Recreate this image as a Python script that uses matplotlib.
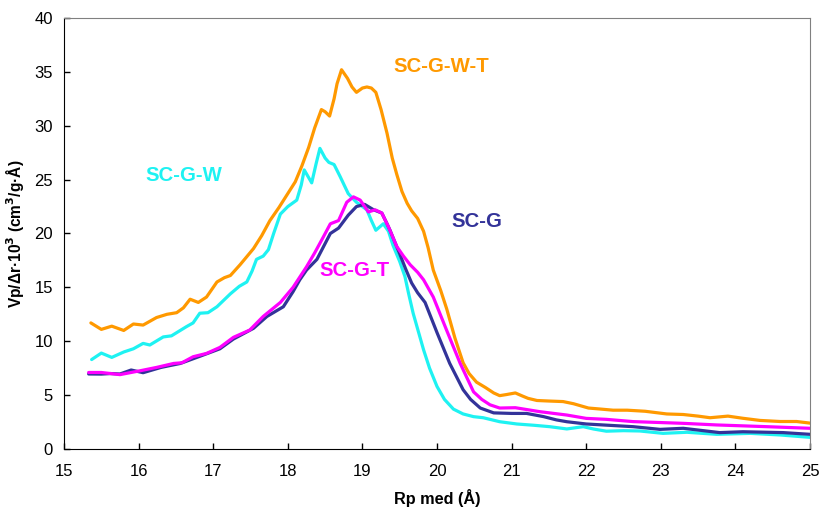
import matplotlib
matplotlib.use("Agg")
import matplotlib.pyplot as plt

plt.rcParams['font.family'] = ['Liberation Sans', 'DejaVu Sans']

x_wt = [15.36, 15.5, 15.64, 15.8, 15.93, 16.06, 16.24, 16.38, 16.51, 16.6, 16.69, 16.8, 16.91, 17.05, 17.15,
        17.23, 17.36, 17.54, 17.65, 17.76, 17.88, 17.99, 18.1, 18.19, 18.28, 18.36, 18.45, 18.5, 18.56, 18.62,
        18.66, 18.72, 18.8, 18.86, 18.92, 19.0, 19.06, 19.12, 19.18, 19.25, 19.33, 19.4, 19.46, 19.53, 19.6,
        19.66, 19.74, 19.82, 19.88, 19.95, 20.05, 20.13, 20.24, 20.35, 20.43, 20.53, 20.65, 20.76, 20.84, 20.93,
        21.05, 21.15, 21.22, 21.34, 21.5, 21.69, 21.83, 22.03, 22.2, 22.36, 22.55, 22.79, 23.08, 23.3, 23.5,
        23.66, 23.9, 24.1, 24.33, 24.6, 24.82, 25.0]
y_wt = [11.7, 11.1, 11.4, 11.0, 11.6, 11.5, 12.2, 12.5, 12.65, 13.1, 13.9, 13.6, 14.1, 15.5, 15.9,
        16.1, 17.1, 18.6, 19.8, 21.2, 22.4, 23.6, 24.8, 26.3, 28.0, 29.8, 31.5, 31.3, 30.9, 32.5,
        33.9, 35.2, 34.4, 33.6, 33.1, 33.5, 33.6, 33.5, 33.1, 31.5, 29.3, 27.0, 25.5, 23.9, 22.8,
        22.1, 21.4, 20.2, 18.7, 16.6, 14.7, 13.0, 10.3, 8.0, 7.0, 6.2, 5.7, 5.2, 4.95, 5.05,
        5.2, 4.9, 4.7, 4.5, 4.45, 4.4, 4.2, 3.8, 3.7, 3.6, 3.6, 3.5, 3.25, 3.2, 3.05,
        2.9, 3.05, 2.85, 2.65, 2.55, 2.55, 2.4]

x_w = [15.37, 15.5, 15.64, 15.8, 15.93, 16.06, 16.15, 16.33, 16.44, 16.64, 16.73, 16.82, 16.93, 17.05, 17.23,
       17.35, 17.45, 17.52, 17.58, 17.67, 17.74, 17.81, 17.9, 18.0, 18.12, 18.18, 18.22, 18.27, 18.32, 18.38,
       18.43, 18.5, 18.55, 18.62, 18.7, 18.81, 18.92, 19.06, 19.12, 19.18, 19.28, 19.35, 19.41, 19.5, 19.57,
       19.62, 19.68, 19.75, 19.82, 19.9, 20.0, 20.1, 20.22, 20.35, 20.49, 20.62, 20.84, 21.07, 21.3, 21.51,
       21.74, 21.96, 22.1, 22.27, 22.5, 22.72, 23.03, 23.35, 23.75, 24.2, 24.6, 25.0]
y_w = [8.3, 8.9, 8.5, 9.0, 9.3, 9.8, 9.65, 10.4, 10.5, 11.35, 11.7, 12.6, 12.65, 13.2, 14.4,
       15.1, 15.5, 16.5, 17.6, 17.9, 18.5, 20.0, 21.8, 22.5, 23.1, 24.5, 25.9, 25.3, 24.7, 26.5,
       27.9, 27.0, 26.6, 26.4, 25.3, 23.7, 22.9, 22.2, 21.2, 20.3, 20.9, 20.2, 18.9, 17.4, 16.0,
       14.4, 12.6, 10.9, 9.2, 7.5, 5.8, 4.6, 3.7, 3.25, 3.0, 2.9, 2.53, 2.32, 2.2, 2.07,
       1.86, 2.07, 1.85, 1.65, 1.7, 1.67, 1.45, 1.55, 1.36, 1.45, 1.3, 1.08]

x_g = [15.33, 15.5, 15.62, 15.75, 15.9, 16.06, 16.3, 16.56, 16.82, 17.09, 17.27, 17.54, 17.72, 17.94, 18.07,
       18.16, 18.25, 18.39, 18.45, 18.57, 18.68, 18.81, 18.92, 19.03, 19.15, 19.26, 19.33, 19.37, 19.5, 19.58,
       19.66, 19.74, 19.84, 20.0, 20.17, 20.35, 20.45, 20.58, 20.76, 21.0, 21.2, 21.43, 21.6, 21.74, 22.0,
       22.3, 22.63, 22.99, 23.3, 23.79, 24.1, 24.64, 25.0]
y_g = [6.96, 6.95, 7.0, 6.96, 7.33, 7.08, 7.57, 7.94, 8.6, 9.3, 10.2, 11.2, 12.3, 13.2, 14.6,
       15.7, 16.6, 17.6, 18.4, 20.0, 20.5, 21.7, 22.5, 22.7, 22.2, 21.9, 20.9, 20.3, 18.1, 16.7,
       15.4, 14.5, 13.6, 10.8, 7.95, 5.5, 4.6, 3.8, 3.35, 3.3, 3.3, 3.0, 2.7, 2.53, 2.32,
       2.2, 2.07, 1.82, 1.92, 1.52, 1.6, 1.52, 1.36]

x_t = [15.33, 15.5, 15.75, 16.02, 16.24, 16.47, 16.58, 16.73, 16.91, 17.09, 17.27, 17.49, 17.67, 17.9, 18.07,
       18.25, 18.36, 18.47, 18.57, 18.68, 18.79, 18.88, 18.97, 19.08, 19.17, 19.26, 19.35, 19.46, 19.55, 19.64,
       19.74, 19.82, 19.95, 20.13, 20.31, 20.49, 20.6, 20.71, 20.84, 21.05, 21.38, 21.74, 22.0, 22.27, 22.63,
       23.3, 23.75, 24.42, 25.0]
y_t = [7.1, 7.1, 6.9, 7.26, 7.57, 7.94, 8.0, 8.56, 8.87, 9.43, 10.36, 11.04, 12.3, 13.6, 15.0,
       16.9, 18.2, 19.6, 20.9, 21.2, 22.9, 23.4, 23.1, 22.0, 22.2, 21.9, 20.6, 18.8, 17.9, 17.1,
       16.4, 15.7, 14.1, 11.0, 7.95, 5.3, 4.6, 4.1, 3.8, 3.83, 3.46, 3.15, 2.84, 2.75, 2.54,
       2.38, 2.23, 2.07, 1.92]

names = ["SC-G-W-T", "SC-G-W", "SC-G", "SC-G-T"]
colors = ["#FF9900", "#1EF2F2", "#333399", "#FF00FF"]
label_pos = [(20.06, 35.5), (16.6, 25.4), (20.54, 21.1), (18.9, 16.6)]

fig = plt.figure(figsize=(8.22, 5.13), dpi=100)
ax = fig.add_axes([0.0779, 0.1248, 0.9075, 0.8401])

series = [(x_wt, y_wt), (x_w, y_w), (x_g, y_g), (x_t, y_t)]
for i in range(4):
    xs, ys = series[i]
    ax.plot(xs, ys, color=colors[i], lw=2.3, solid_joinstyle='round', solid_capstyle='round')

for name, c, (lx, ly) in zip(names, colors, label_pos):
    ax.text(lx, ly, name, color=c, fontsize=14.7, fontweight='bold', ha='center', va='center')

ax.set_xlim(15, 25)
ax.set_ylim(0, 40)
ax.set_xticks(range(15, 26))
ax.set_yticks(range(0, 41, 5))
ax.tick_params(direction='in', length=4, width=1, labelsize=12)
ax.tick_params(axis='x', pad=11)
ax.tick_params(axis='y', pad=8)
for s in ['top', 'right']:
    ax.spines[s].set_color('#808080')
for s in ['left', 'bottom']:
    ax.spines[s].set_color('black')

ax.set_xlabel("Rp med (Å)", fontsize=11.7, fontweight='bold', labelpad=7)
ax.set_ylabel("Vp/Δr·10$^{\\mathbf{3}}$ (cm$^{\\mathbf{3}}$/g·Å)", fontsize=11.2, fontweight='bold', labelpad=6)

fig.savefig("out.png", dpi=100)
